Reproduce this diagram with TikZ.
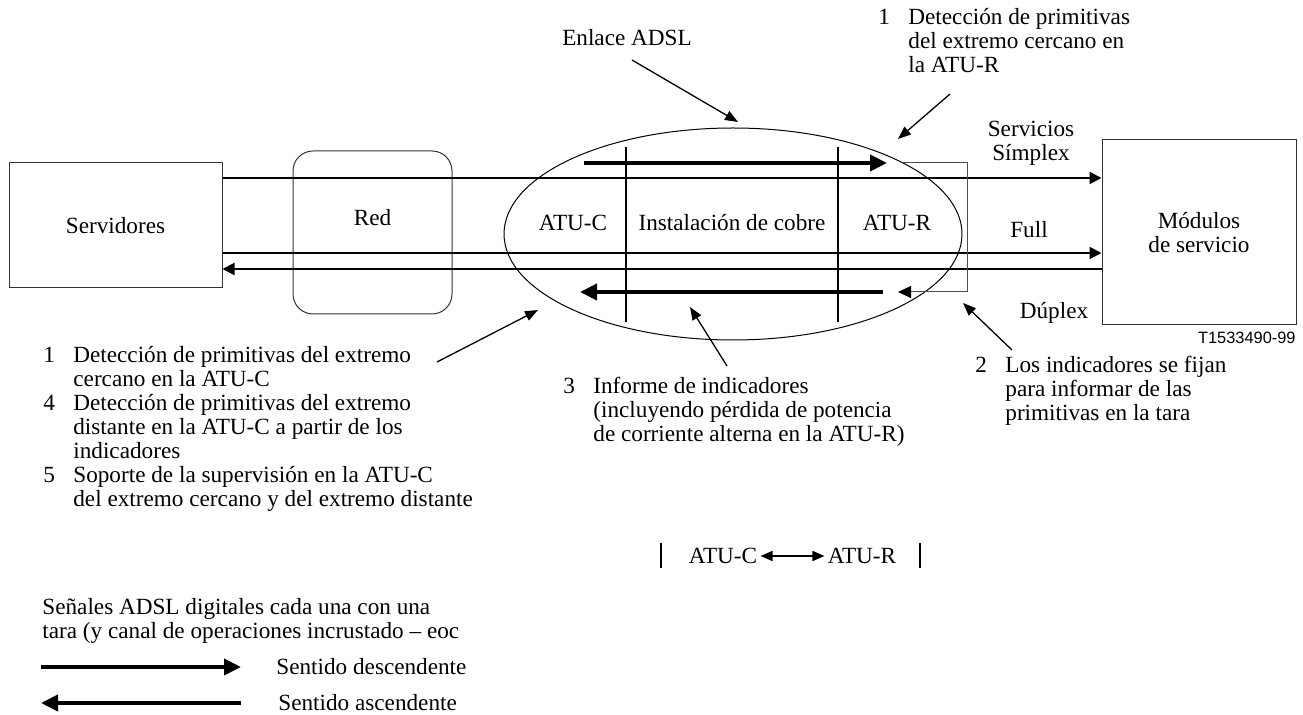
\documentclass[tikz,border=0pt]{standalone}
\usepackage{fontspec}
\setmainfont{Liberation Serif}
\newfontfamily\figsans{Liberation Sans}
\usetikzlibrary{arrows.meta,shapes.geometric}

\tikzset{
  blk/.style={draw=black!80, line width=0.5pt, inner sep=0pt},
  wire/.style={line width=1pt},
  wirearr/.style={wire, -{Triangle[length=6pt,width=6pt]}},
  sig/.style={line width=2pt, -{Triangle[length=8.5pt,width=8pt]}},
  callout/.style={line width=0.65pt, -{Triangle[length=6.5pt,width=5pt]}},
  txt/.style={inner sep=0pt},
}

\begin{document}
\begin{tikzpicture}[x=0.5pt, y=-0.5pt, font=\fontsize{11.6}{12}\selectfont]
\useasboundingbox (0,0) rectangle (1303,715);

% bloques
\node[blk, minimum width=106.5pt, minimum height=62.5pt] (serv) at (115.5,225.5) {Servidores};
\node[blk, rounded corners=10pt, minimum width=79.5pt, minimum height=81.5pt,
      label={[yshift=7.5pt]center:Red}] (red) at (372.5,232.5) {};
\node[blk, minimum width=97pt, minimum height=92.5pt, align=center] (mod) at (1199,232.5) {Módulos\\de servicio};
\node[txt, anchor=north east, font=\figsans\fontsize{8.2}{9}\selectfont] (ref) at (1296,332) {T1533490-99};

% enlace ADSL
\node[draw, line width=0.5pt, ellipse, minimum width=229pt, minimum height=106pt, inner sep=0pt] (link) at (733,234) {};
\node (atuc) at (573,223) {ATU-C};
\node (cobre) at (732,223) {Instalación de cobre};
\node (atur) at (897,223) {ATU-R};
\draw[wire] (626,147) -- (626,322);
\draw[wire] (838,147) -- (838,322);

% lineas de servicio
\coordinate (ya) at (0,178);
\coordinate (yb) at (0,253);
\coordinate (yc) at (0,269);
\draw[wirearr] (serv.east |- ya) -- (mod.west |- ya);
\draw[wirearr] (serv.east |- yb) -- (mod.west |- yb);
\draw[wirearr] (mod.west |- yc) -- (serv.east |- yc);
\node (simplex) at (1031,143.5) [align=center] {Servicios\\Símplex};
\node (full) at (1029,230) {Full};
\node (duplex) at (1054,313) {Dúplex};

% senales descendente/ascendente
\draw[sig] (584,163) -- (887,163);
\draw[sig] (883,292) -- (580,292);
\draw[line width=0.5pt, draw=black!70, -{Triangle[length=6.5pt,width=6pt,color=black]}]
  (902,163) -- (967,163) -- (967,292) -- (898,292);

% llamadas
\node (enlace) at (627,38) {Enlace ADSL};
\coordinate (enlaceA) at (632,60);
\coordinate (enlaceB) at (738,122);
\draw[callout] (enlaceA) -- (enlaceB);

\node[txt, anchor=north west] (primR) at (878,7) {\begin{tabular}{@{}p{15pt}@{}l@{}}
1 & Detección de primitivas\\
  & del extremo cercano en\\
  & la ATU-R
\end{tabular}};
\coordinate (primRA) at (950,94);
\coordinate (primRB) at (898,139);
\draw[callout] (primRA) -- (primRB);

\node[txt, anchor=north west] (primC) at (43,345) {\begin{tabular}{@{}p{15pt}@{}l@{}}
1 & Detección de primitivas del extremo\\
  & cercano en la ATU-C\\
4 & Detección de primitivas del extremo\\
  & distante en la ATU-C a partir de los\\
  & indicadores\\
5 & Soporte de la supervisión en la ATU-C\\
  & del extremo cercano y del extremo distante
\end{tabular}};
\coordinate (primCA) at (437,362);
\coordinate (primCB) at (538,310);
\draw[callout] (primCA) -- (primCB);

\node[txt, anchor=north west] (informe) at (563,376) {\begin{tabular}{@{}p{15pt}@{}l@{}}
3 & Informe de indicadores\\
  & (incluyendo pérdida de potencia\\
  & de corriente alterna en la ATU-R)
\end{tabular}};
\coordinate (informeA) at (727,366);
\coordinate (informeB) at (690,307);
\draw[callout] (informeA) -- (informeB);

\node[txt, anchor=north west] (fijan) at (975,355) {\begin{tabular}{@{}p{15pt}@{}l@{}}
2 & Los indicadores se fijan\\
  & para informar de las\\
  & primitivas en la tara
\end{tabular}};
\coordinate (fijanA) at (1012,350);
\coordinate (fijanB) at (963,303);
\draw[callout] (fijanA) -- (fijanB);

% ATU-C <-> ATU-R
\node[inner sep=1.5pt] (atucB) at (723,556) {ATU-C};
\node[inner sep=1.5pt] (aturB) at (862,556) {ATU-R};
\draw[line width=0.8pt, {Triangle[length=6pt,width=5pt]}-{Triangle[length=6pt,width=5pt]}] (atucB) -- (aturB);
\draw[line width=0.6pt] (661,543) -- (661,568);
\draw[line width=0.6pt] (920,543) -- (920,568);

% leyenda
\node[txt, anchor=north west] (leg) at (42,597) {\begin{tabular}{@{}l@{}}
Señales ADSL digitales cada una con una\\
tara (y canal de operaciones incrustado – eoc
\end{tabular}};
\draw[sig] (41,667) -- (241,667);
\node[txt, anchor=west] (desc) at (276,667) {Sentido descendente};
\draw[sig] (241,703) -- (41,703);
\node[txt, anchor=west] (asc) at (278,703) {Sentido ascendente};
\end{tikzpicture}
\end{document}
